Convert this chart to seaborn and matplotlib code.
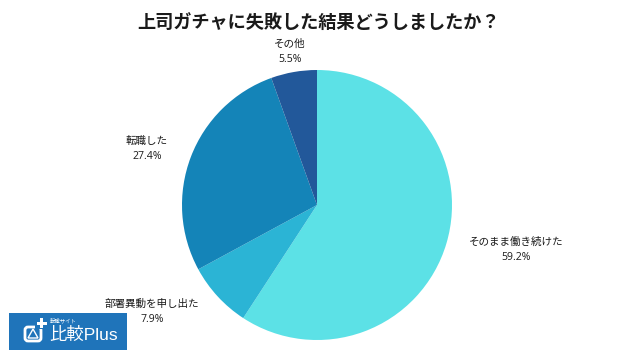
import matplotlib
matplotlib.use("Agg")
import matplotlib.pyplot as plt
from matplotlib.patches import Rectangle, FancyBboxPatch, Polygon
import seaborn as sns

TITLE = "上司ガチャに失敗した結果どうしましたか？"
categories = ["そのまま働き続けた", "部署異動を申し出た", "転職した", "その他"]
values = [59.2, 7.9, 27.4, 5.5]
colors = ["#5CE1E6", "#2BB4D5", "#1484B8", "#22589A"]
label_xy = [(516, 250), (152, 312), (147, 149), (290, 52)]

sns.set_theme(style="white")
plt.rcParams['font.family'] = ['Open Sans', 'Noto Sans CJK JP', 'DejaVu Sans']

fig = plt.figure(figsize=(6.4, 3.6), dpi=100)
ax = fig.add_axes([0, 0, 1, 1])

ax.pie(values, colors=colors, startangle=90, counterclock=False,
       center=(317, 155), radius=135, frame=True,
       wedgeprops={'linewidth': 0, 'edgecolor': 'none'})
ax.set_xlim(0, 640)
ax.set_ylim(0, 360)
ax.set_aspect('equal')
ax.axis('off')

for cat, val, (x, y) in zip(categories, values, label_xy):
    ax.text(x, 360 - y, f"{cat}\n{val}%", ha='center', va='center', fontsize=7.6,
            color='#1a1a1a', linespacing=1.55)

ax.text(319, 336.5, TITLE, ha='center', va='center', fontsize=13.1, fontweight='bold',
        color='#1a1a1a', family=['Noto Sans CJK JP'])

# logo
ax.add_patch(Rectangle((9, 10), 118, 37, color='#1F74BA', lw=0))
ax.add_patch(FancyBboxPatch((25, 19), 16, 14, boxstyle="round,pad=0,rounding_size=3",
                            fc='none', ec='white', lw=2))
ax.add_patch(Rectangle((35, 31), 12, 12, color='#1F74BA', lw=0))
ax.add_patch(Rectangle((36.5, 35.5), 10, 3, color='white', lw=0))
ax.add_patch(Rectangle((40, 32), 3, 10, color='white', lw=0))
ax.add_patch(Polygon([(33, 31), (28, 22), (38, 22)], closed=True, fc='none', ec='white', lw=1))
ax.text(50, 39.5, "転職サイト", color='white', fontsize=3.9, ha='left', va='center',
        family=['Noto Sans CJK JP'])
ax.text(49, 25, "比較Plus", color='white', fontsize=12.5, ha='left', va='center',
        family=['Liberation Sans', 'Noto Sans CJK JP'])

fig.savefig("out.png", dpi=100)
